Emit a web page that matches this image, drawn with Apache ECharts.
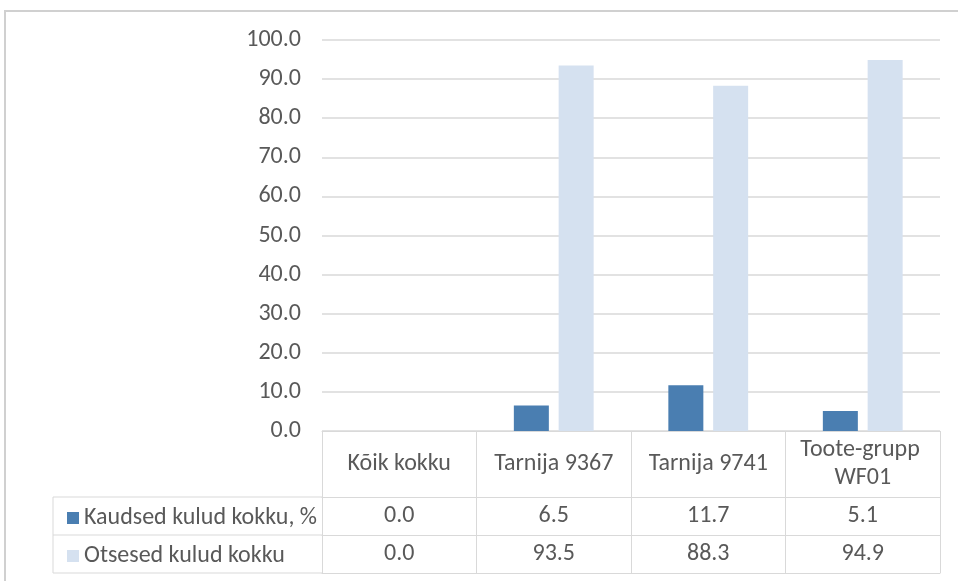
<!DOCTYPE html>
<html>
<head>
<meta charset="utf-8">
<script src="https://cdn.jsdelivr.net/npm/echarts@6/dist/echarts.min.js"></script>
<style>
  html, body { margin: 0; padding: 0; background: #fff; }
  #main { width: 958px; height: 581px; }
</style>
</head>
<body>
<div id="main"></div>
<script>
// andmed
const categories = ['Kõik kokku', 'Tarnija 9367', 'Tarnija 9741', 'Toote-grupp WF01'];
const seriesNames = ['Kaudsed kulud kokku, %', 'Otsesed kulud kokku'];
const kaudsed = [0.0, 6.5, 11.7, 5.1];
const otsesed = [0.0, 93.5, 88.3, 94.9];
const yTicks = [0, 10, 20, 30, 40, 50, 60, 70, 80, 90, 100];

// paigutus
const gridLeft = 322, gridRight = 18, gridTop = 40, gridBottom = 150;
const headerH = 66, rowH = 38;
const tableLeft = 53;
const H = 581;
const axisY = H - gridBottom;
const font = "Carlito, 'Liberation Sans', Arial, sans-serif";
const fontSize = 24;
const textColor = '#595959';
const lineColor = '#d9d9d9';

const chart = echarts.init(document.getElementById('main'));

// tabeli rida lisa-x-teljena
function rowAxis(values, offset) {
  return {
    type: 'category',
    gridIndex: 0,
    position: 'bottom',
    offset: offset,
    data: categories,
    axisLine: { show: true, lineStyle: { color: lineColor, width: 1 } },
    axisTick: { show: false },
    axisLabel: {
      show: values != null,
      interval: 0,
      margin: rowH / 2,
      verticalAlign: 'middle',
      color: textColor,
      fontFamily: font,
      fontSize: fontSize,
      formatter: (v, i) => values ? values[i].toFixed(1) : ''
    }
  };
}

const rowLines = [headerH, headerH + rowH, headerH + 2 * rowH].map(o => ({
  type: 'line',
  silent: true,
  shape: { x1: tableLeft, y1: axisY + o, x2: gridLeft, y2: axisY + o },
  style: { stroke: lineColor, lineWidth: 1 }
}));

const option = {
  animation: false,
  grid: { left: gridLeft, right: gridRight, top: gridTop, bottom: gridBottom },
  legend: {
    data: seriesNames,
    orient: 'vertical',
    left: 62,
    top: axisY + headerH + rowH / 2 - 15,
    icon: 'rect',
    itemWidth: 12,
    itemHeight: 12,
    itemGap: rowH - 24,
    itemTextGap: 8,
    textStyle: { color: textColor, fontFamily: font, fontSize: fontSize, lineHeight: 24 },
    selectedMode: false
  },
  xAxis: [
    {
      type: 'category',
      data: categories,
      axisLine: { lineStyle: { color: lineColor, width: 1 } },
      axisTick: {
        show: true,
        interval: 0,
        length: headerH + 2 * rowH,
        lineStyle: { color: lineColor, width: 1 }
      },
      axisLabel: {
        interval: 0,
        margin: headerH / 2,
        verticalAlign: 'middle',
        align: 'center',
        color: textColor,
        fontFamily: font,
        fontSize: fontSize,
        lineHeight: 28,
        width: 140,
        overflow: 'break'
      }
    },
    rowAxis(kaudsed, headerH),
    rowAxis(otsesed, headerH + rowH),
    rowAxis(null, headerH + 2 * rowH)
  ],
  yAxis: {
    type: 'value',
    min: yTicks[0],
    max: yTicks[yTicks.length - 1],
    interval: 10,
    axisLine: { show: false },
    axisTick: { show: false },
    axisLabel: {
      margin: 21,
      color: textColor,
      fontFamily: font,
      fontSize: fontSize,
      formatter: v => v.toFixed(1)
    },
    splitLine: { lineStyle: { color: lineColor, width: 1.5 } }
  },
  series: [
    {
      name: seriesNames[0],
      type: 'bar',
      data: kaudsed,
      barWidth: 35,
      barGap: '28%',
      itemStyle: { color: '#4a7eb1' }
    },
    {
      name: seriesNames[1],
      type: 'bar',
      data: otsesed,
      barWidth: 35,
      barGap: '28%',
      itemStyle: { color: '#d5e1f0' }
    }
  ],
  graphic: [
    {
      type: 'rect',
      silent: true,
      shape: { x: 5, y: 11, width: 1200, height: 1200 },
      style: { fill: 'none', stroke: '#d0d0d0', lineWidth: 2 }
    },
    ...rowLines,
    {
      type: 'line',
      silent: true,
      shape: { x1: tableLeft, y1: axisY + headerH, x2: tableLeft, y2: axisY + headerH + 2 * rowH },
      style: { stroke: lineColor, lineWidth: 1 }
    }
  ]
};

chart.setOption(option);
</script>
</body>
</html>
